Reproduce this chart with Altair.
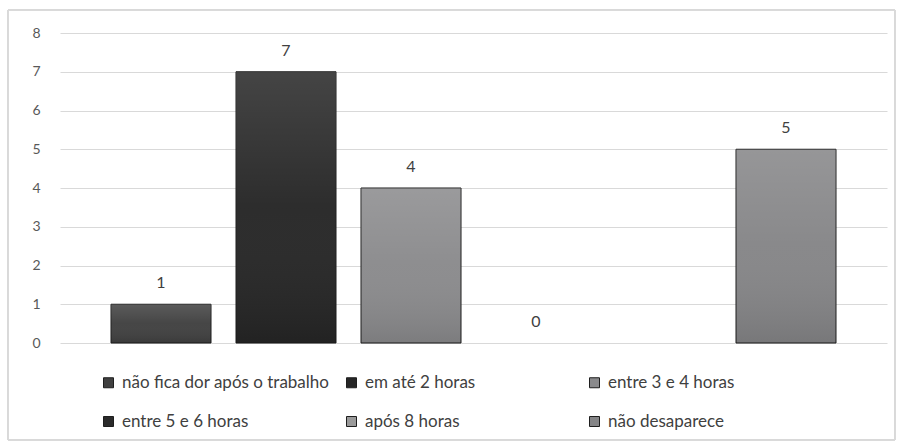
import altair as alt
import pandas as pd

categorias = [
    "não fica dor após o trabalho",
    "em até 2 horas",
    "entre 3 e 4 horas",
    "entre 5 e 6 horas",
    "após 8 horas",
    "não desaparece",
]
valores = [1, 7, 4, 0, None, 5]
cores = ["#404040", "#262626", "#8a8a8c", "#2b2b2b", "#9a9a9a", "#858587"]
ticks_y = [0, 1, 2, 3, 4, 5, 6, 7, 8]

df = pd.DataFrame({"categoria": categorias, "valor": valores})

FONT = "Lato"

x = alt.X(
    "categoria:N",
    sort=categorias,
    axis=None,
    scale=alt.Scale(paddingInner=0.2, paddingOuter=0.408),
)
y = alt.Y(
    "valor:Q",
    scale=alt.Scale(domain=[0, 8], nice=False),
    axis=alt.Axis(
        values=ticks_y,
        title=None,
        domain=False,
        ticks=False,
        labelPadding=20,
        grid=True,
        gridColor="#d9d9d9",
        gridWidth=1,
        labelColor="#595959",
        labelFontSize=14,
        labelFont=FONT,
        labelOverlap=False,
    ),
)

color = alt.Color(
    "categoria:N",
    sort=categorias,
    scale=alt.Scale(domain=categorias, range=cores),
    legend=alt.Legend(
        orient="none",
        legendX=40,
        legendY=341,
        columns=3,
        direction="horizontal",
        gridAlign="all",
        title=None,
        symbolType="square",
        symbolSize=100,
        symbolStrokeColor="#1e1e1e",
        symbolStrokeWidth=1,
        labelFontSize=17,
        labelFont=FONT,
        labelColor="#404040",
        labelLimit=400,
        labelOffset=5,
        rowPadding=21,
        columnPadding=13,
    ),
)

border = alt.Chart(df).mark_rect(
    fill=None, stroke="#d9d9d9", strokeWidth=1
).encode(
    x=alt.value(-52), x2=alt.value(835), y=alt.value(-23), y2=alt.value(407)
)

bars = alt.Chart(df).transform_filter("datum.valor > 0").mark_bar(
    stroke="#1a1a1a", strokeWidth=1
).encode(x=x, y=y, color=color)

shine = alt.Chart(df).transform_filter("datum.valor > 0").mark_bar(
    color=alt.Gradient(
        gradient="linear",
        x1=0, x2=0, y1=0, y2=1,
        stops=[
            alt.GradientStop(color="rgba(255,255,255,0.14)", offset=0),
            alt.GradientStop(color="rgba(255,255,255,0.03)", offset=0.5),
            alt.GradientStop(color="rgba(0,0,0,0.10)", offset=1),
        ],
    )
).encode(x=x, y=y)

labels = alt.Chart(df).mark_text(
    dy=-21, fontSize=16, font=FONT, color="#404040"
).encode(x=x, y=y, text=alt.Text("valor:Q", format="d"))

chart = alt.layer(border, bars, shine, labels).properties(
    width=827,
    height=310,
    padding={"left": 60, "top": 33, "right": 17, "bottom": 100},
    autosize=alt.AutoSizeParams(type="none"),
    background="white",
).configure_view(stroke=None)

chart.save("out.html", embed_options={"renderer": "svg", "actions": False})
